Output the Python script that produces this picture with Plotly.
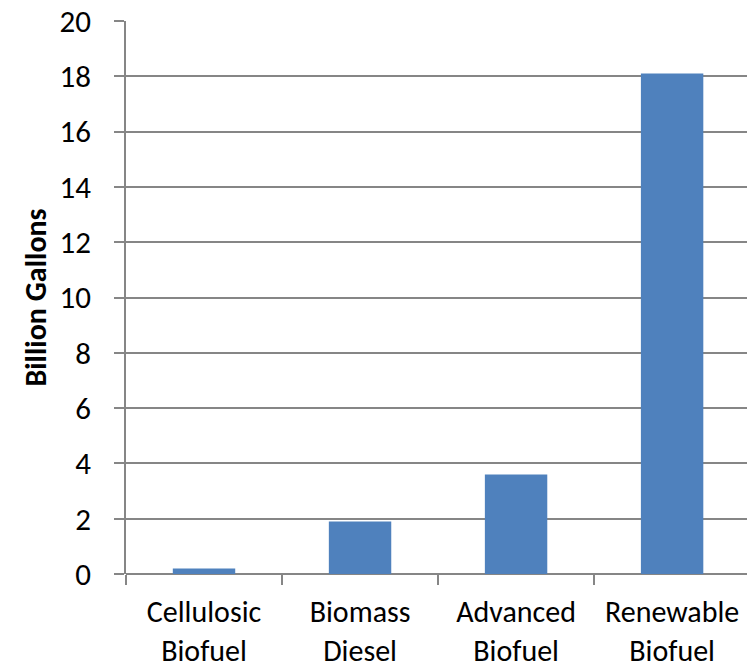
import plotly.graph_objects as go

categories = ["Cellulosic<br>Biofuel", "Biomass<br>Diesel", "Advanced<br>Biofuel", "Renewable<br>Biofuel"]
values = [0.2, 1.9, 3.6, 18.1]
y_ticks = [0, 2, 4, 6, 8, 10, 12, 14, 16, 18, 20]

font_family = "Carlito, Calibri, Lato, sans-serif"
grid_color = "#868686"

fig = go.Figure(go.Bar(x=categories, y=values, marker=dict(color="#4F81BD", line=dict(width=0))))

fig.update_layout(
    width=747, height=668,
    margin=dict(l=126, r=0, t=21, b=94),
    paper_bgcolor="white", plot_bgcolor="white",
    bargap=0.6,
    showlegend=False,
    font=dict(family=font_family, color="black", size=31),
)
fig.update_xaxes(
    type="category", tickson="boundaries", range=[-0.5, 3.48],
    ticks="outside", ticklen=10, tickcolor=grid_color, tickwidth=1.5,
    showline=False, showgrid=False, automargin=False,
    tickfont=dict(size=30), ticklabelstandoff=17,
)
fig.update_yaxes(
    range=[0, 20], tickvals=y_ticks, automargin=False,
    showgrid=True, gridcolor=grid_color, gridwidth=1.5,
    showline=True, linecolor=grid_color, linewidth=1.5,
    ticks="outside", ticklen=10, tickcolor=grid_color, tickwidth=1.5,
    zeroline=True, zerolinecolor=grid_color, zerolinewidth=1.5,
    tickfont=dict(size=31), ticklabelstandoff=17,
    title=dict(text="<b>Billion Gallons</b>", font=dict(size=30), standoff=4),
)
fig.write_html(
    "out.html",
    config={"displayModeBar": False},
    post_script="document.body.style.margin='0';document.body.style.overflow='hidden';",
)
